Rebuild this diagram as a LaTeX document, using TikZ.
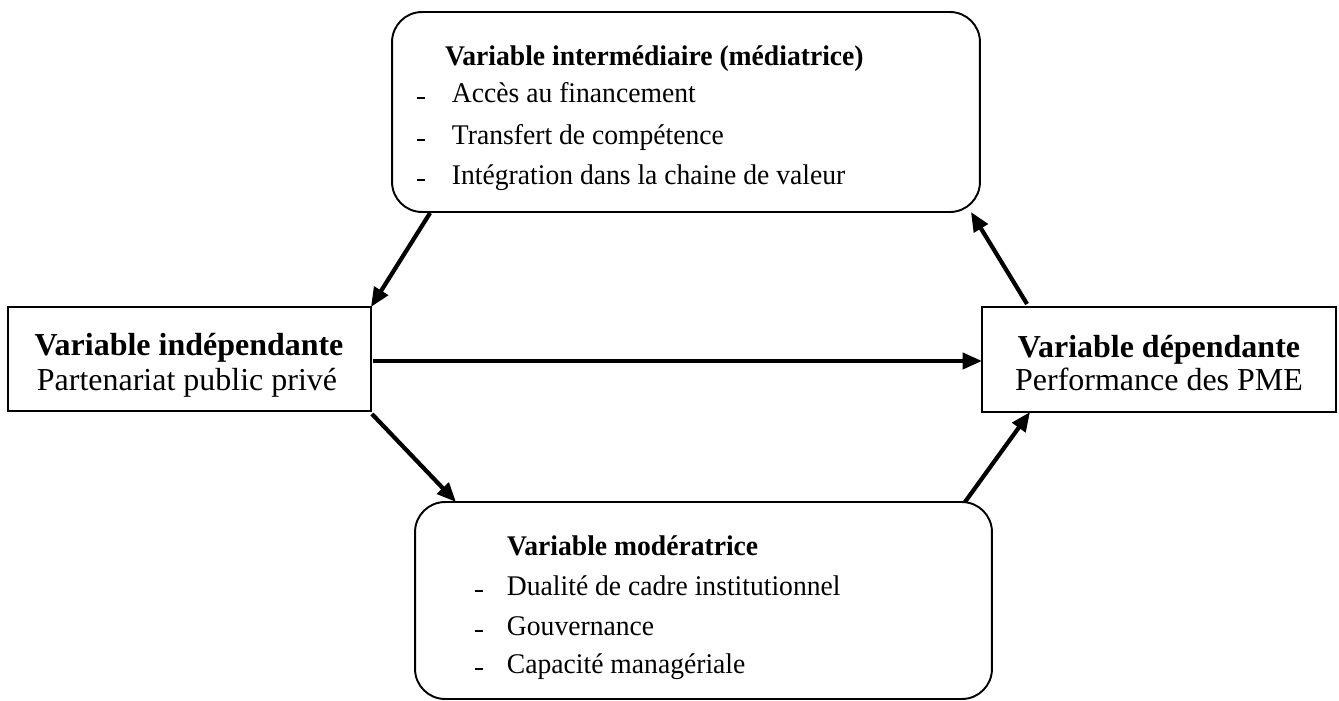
\documentclass[tikz,border=0pt]{standalone}
\usepackage{fontspec}
\setmainfont{Liberation Serif}
\newfontfamily\boxfont{Liberation Serif}[FakeStretch=0.97]
\usetikzlibrary{arrows.meta,calc}
\tikzset{
  box/.style={draw, line width=1.1pt, inner sep=0pt, outer sep=0pt},
  rbox/.style={box, rounded corners=0.6cm},
  txt/.style={inner sep=0pt, outer sep=0pt, font=\fontsize{18.2}{22}\selectfont},
  ttl/.style={txt, font=\fontsize{18.2}{22}\selectfont\bfseries},
  stxt/.style={inner sep=0pt, outer sep=0pt, font=\boxfont\fontsize{16.2}{20}\selectfont},
  sttl/.style={stxt, font=\boxfont\fontsize{16.2}{20}\selectfont\bfseries},
  conn/.style={line width=2.4pt, -{Triangle[length=11pt,width=9pt]}}
}
\newcommand{\itemdash}[2]{\makebox[#1][l]{\raisebox{0.06cm}{\rule{0.16cm}{0.05cm}}}#2}
\begin{document}
\begin{tikzpicture}[x=0.02cm,y=-0.02cm]
\useasboundingbox (0,0) rectangle (1339,700);
% boxes
\node[rbox, minimum width=11.76cm, minimum height=4cm] (top) at (686,112) {};
\node[box, minimum width=7.26cm, minimum height=2.08cm] (left) at (189.5,359) {};
\node[box, minimum width=7.08cm, minimum height=2.1cm] (right) at (1159,359.5) {};
\node[rbox, minimum width=11.54cm, minimum height=3.94cm] (bot) at (703.5,600.5) {};
% top texts
\node[sttl, anchor=base west] (t0) at (445,65) {Variable intermédiaire (médiatrice)};
\node[stxt, anchor=base west] (t1) at (417,102) {\itemdash{0.7cm}{Accès au financement}};
\node[stxt, anchor=base west] (t2) at (417,144) {\itemdash{0.7cm}{Transfert de compétence}};
\node[stxt, anchor=base west] (t3) at (417,184) {\itemdash{0.7cm}{Intégration dans la chaine de valeur}};
% left texts
\node[ttl, anchor=base] (l0) at (189,355) {Variable indépendante};
\node[txt, anchor=base] (l1) at (187,390) {Partenariat public privé};
% right texts
\node[ttl, anchor=base] (r0) at (1159,357) {Variable dépendante};
\node[txt, anchor=base] (r1) at (1159,390) {Performance des PME};
% bottom texts
\node[sttl, anchor=base west] (b0) at (507,555) {Variable modératrice};
\node[stxt, anchor=base west] (b1) at (475,595) {\itemdash{0.64cm}{Dualité de cadre institutionnel}};
\node[stxt, anchor=base west] (b2) at (475,635) {\itemdash{0.64cm}{Gouvernance}};
\node[stxt, anchor=base west] (b3) at (475,673) {\itemdash{0.64cm}{Capacité managériale}};
% connectors
\draw[conn] ($(top.south west)+(38,1)$) -- (left.north east);
\draw[conn] ($(left.east)+(2,2)$) -- (right.west |- {(0,361)});
\draw[conn] ($(left.south east)+(1,3)$) -- ($(bot.north west)+(41,0)$);
\draw[conn] ($(bot.north east)+(-27,0)$) -- ($(right.south west)+(48,0)$);
\draw[conn] ($(right.north west)+(45,-3)$) -- ($(top.south east)+(-9,0)$);
\end{tikzpicture}
\end{document}
